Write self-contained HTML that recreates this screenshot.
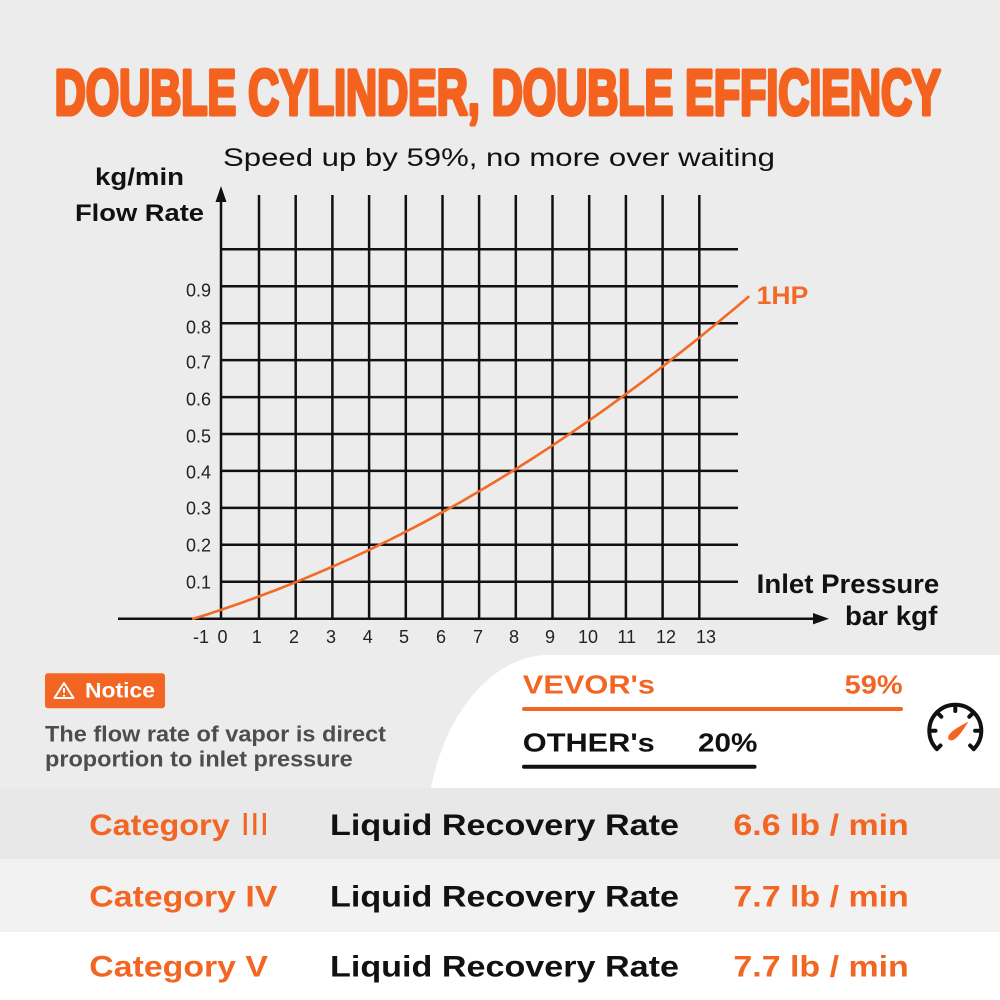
<!DOCTYPE html>
<html>
<head>
<meta charset="utf-8">
<style>
  html,body{margin:0;padding:0;background:#ececec;}
  svg{display:block;}
  text{font-family:"Liberation Sans","DejaVu Sans",sans-serif;}
</style>
</head>
<body>
<svg width="1000" height="1000" viewBox="0 0 1000 1000" xmlns="http://www.w3.org/2000/svg">
  <!-- background -->
  <rect x="0" y="0" width="1000" height="1000" fill="#ececec"/>

  <!-- Title -->
  <text x="54.7" y="114.7" font-size="64" font-weight="bold" fill="#f4621f" stroke="#f4621f" stroke-width="4" stroke-linejoin="round" textLength="886" lengthAdjust="spacingAndGlyphs">DOUBLE CYLINDER, DOUBLE EFFICIENCY</text>

  <!-- Subtitle -->
  <text x="223" y="166" font-size="25" fill="#111" textLength="552" lengthAdjust="spacingAndGlyphs">Speed up by 59%, no more over waiting</text>

  <!-- Axis titles -->
  <text x="95" y="185" font-size="24" font-weight="bold" fill="#111" textLength="89" lengthAdjust="spacingAndGlyphs">kg/min</text>
  <text x="75" y="221" font-size="24" font-weight="bold" fill="#111" textLength="129" lengthAdjust="spacingAndGlyphs">Flow Rate</text>
  <text x="756.7" y="593" font-size="27" font-weight="bold" fill="#111" textLength="182.6" lengthAdjust="spacingAndGlyphs">Inlet Pressure</text>
  <text x="845" y="625" font-size="27" font-weight="bold" fill="#111" textLength="92.3" lengthAdjust="spacingAndGlyphs">bar kgf</text>

  <!-- Grid -->
  <g stroke="#111" stroke-width="2.5" fill="none">
    <line x1="259" y1="195" x2="259" y2="618.7"/>
    <line x1="295.7" y1="195" x2="295.7" y2="618.7"/>
    <line x1="332.4" y1="195" x2="332.4" y2="618.7"/>
    <line x1="369.1" y1="195" x2="369.1" y2="618.7"/>
    <line x1="405.8" y1="195" x2="405.8" y2="618.7"/>
    <line x1="442.5" y1="195" x2="442.5" y2="618.7"/>
    <line x1="479.1" y1="195" x2="479.1" y2="618.7"/>
    <line x1="515.8" y1="195" x2="515.8" y2="618.7"/>
    <line x1="552.5" y1="195" x2="552.5" y2="618.7"/>
    <line x1="589.2" y1="195" x2="589.2" y2="618.7"/>
    <line x1="625.9" y1="195" x2="625.9" y2="618.7"/>
    <line x1="662.6" y1="195" x2="662.6" y2="618.7"/>
    <line x1="699.3" y1="195" x2="699.3" y2="618.7"/>
    <line x1="221" y1="581.8" x2="738" y2="581.8"/>
    <line x1="221" y1="544.8" x2="738" y2="544.8"/>
    <line x1="221" y1="507.9" x2="738" y2="507.9"/>
    <line x1="221" y1="470.9" x2="738" y2="470.9"/>
    <line x1="221" y1="434.0" x2="738" y2="434.0"/>
    <line x1="221" y1="397.1" x2="738" y2="397.1"/>
    <line x1="221" y1="360.1" x2="738" y2="360.1"/>
    <line x1="221" y1="323.2" x2="738" y2="323.2"/>
    <line x1="221" y1="286.2" x2="738" y2="286.2"/>
    <line x1="221" y1="249.3" x2="738" y2="249.3"/>
    <line x1="221" y1="618.7" x2="221" y2="198"/>
    <line x1="118" y1="618.7" x2="815" y2="618.7"/>
  </g>
  <polygon points="221,186 215.5,202 226.5,202" fill="#111"/>
  <polygon points="829,618.7 813,613 813,624.4" fill="#111"/>

  <!-- Y tick labels -->
  <g font-size="18" fill="#222" text-anchor="end">
    <text x="211" y="296.5">0.9</text>
    <text x="211" y="333.5">0.8</text>
    <text x="211" y="368.5">0.7</text>
    <text x="211" y="405.5">0.6</text>
    <text x="211" y="442.5">0.5</text>
    <text x="211" y="478.5">0.4</text>
    <text x="211" y="514.5">0.3</text>
    <text x="211" y="551.5">0.2</text>
    <text x="211" y="588.5">0.1</text>
  </g>
  <!-- X tick labels -->
  <g font-size="18" fill="#222" text-anchor="middle">
    <text x="201" y="643">-1</text>
    <text x="222.5" y="643">0</text>
    <text x="256.7" y="643">1</text>
    <text x="294" y="643">2</text>
    <text x="331" y="643">3</text>
    <text x="367.7" y="643">4</text>
    <text x="404" y="643">5</text>
    <text x="441" y="643">6</text>
    <text x="478" y="643">7</text>
    <text x="514" y="643">8</text>
    <text x="550" y="643">9</text>
    <text x="588" y="643">10</text>
    <text x="626.7" y="643">11</text>
    <text x="666" y="643">12</text>
    <text x="706" y="643">13</text>
  </g>

  <!-- Curve -->
  <polyline fill="none" stroke="#f26a25" stroke-width="2.6" stroke-linejoin="round" stroke-linecap="round"
    points="193.3,618.7 207.8,614.2 222.3,609.4 240.6,603.1 259.0,596.4 277.3,589.5 295.7,582.2 314.0,574.6 332.4,566.7 350.7,558.5 369.1,549.9 387.4,541.0 405.8,531.7 424.1,522.2 442.4,512.2 460.8,502.0 479.1,491.3 497.5,480.3 515.8,469.0 534.2,457.4 552.5,445.4 570.9,433.1 589.2,420.4 607.6,407.4 625.9,394.1 644.3,380.5 662.6,366.5 680.9,352.2 699.3,337.6 717.6,322.6 736.0,307.4 748.4,296.9"/>
  <text x="756.7" y="304" font-size="25" font-weight="bold" fill="#f26a25" textLength="51.6" lengthAdjust="spacingAndGlyphs">1HP</text>

  <!-- Notice -->
  <rect x="45" y="673.3" width="120" height="35" rx="3" ry="3" fill="#f26522"/>
  <path d="M64,683 L73.5,698 L54.5,698 Z" fill="none" stroke="#fff" stroke-width="2" stroke-linejoin="round"/>
  <line x1="64" y1="688" x2="64" y2="693" stroke="#fff" stroke-width="2"/>
  <circle cx="64" cy="695.6" r="1.1" fill="#fff"/>
  <text x="85" y="697.7" font-size="21" font-weight="bold" fill="#fff" textLength="70" lengthAdjust="spacingAndGlyphs">Notice</text>
  <text x="45" y="741.7" font-size="22" font-weight="bold" fill="#4d4d4d" textLength="341" lengthAdjust="spacingAndGlyphs">The flow rate of vapor is direct</text>
  <text x="45" y="766.5" font-size="22" font-weight="bold" fill="#4d4d4d" textLength="307.7" lengthAdjust="spacingAndGlyphs">proportion to inlet pressure</text>

  <!-- White curved panel -->
  <path d="M431,788 C445,715 490,658 545,655 L1000,655 L1000,788 Z" fill="#ffffff"/>

  <!-- VEVOR / OTHER -->
  <text x="522.8" y="693.3" font-size="26" font-weight="bold" fill="#f26522" textLength="132.2" lengthAdjust="spacingAndGlyphs">VEVOR's</text>
  <text x="844.7" y="693.3" font-size="26" font-weight="bold" fill="#f26522" textLength="58" lengthAdjust="spacingAndGlyphs">59%</text>
  <line x1="524" y1="709" x2="901" y2="709" stroke="#f26522" stroke-width="4" stroke-linecap="round"/>
  <text x="522.8" y="751.7" font-size="26" font-weight="bold" fill="#111" textLength="132" lengthAdjust="spacingAndGlyphs">OTHER's</text>
  <text x="698" y="751.7" font-size="26" font-weight="bold" fill="#111" textLength="59.4" lengthAdjust="spacingAndGlyphs">20%</text>
  <line x1="524" y1="766.7" x2="754.5" y2="766.7" stroke="#111" stroke-width="4" stroke-linecap="round"/>

  <!-- Gauge icon -->
  <g stroke="#111" stroke-width="4" stroke-linecap="round" fill="none">
    <path d="M936.9,749.1 A26,26 0 1 1 973.7,749.1"/>
    <line x1="955.3" y1="705" x2="955.3" y2="711"/>
    <line x1="929.5" y1="730.7" x2="935.5" y2="730.7"/>
    <line x1="981.1" y1="730.7" x2="975.1" y2="730.7"/>
    <line x1="937" y1="712.4" x2="941.3" y2="716.7"/>
    <line x1="973.6" y1="712.4" x2="969.3" y2="716.7"/>
    <line x1="936.9" y1="749.1" x2="940.5" y2="745.5"/>
    <line x1="973.7" y1="749.1" x2="970.1" y2="745.5"/>
  </g>
  <path d="M948.5,736 Q950,731 968.5,721.5 Q958.5,738 953,740 Q947,741.5 948.5,736 Z" fill="#f26522"/>

  <!-- Table rows -->
  <rect x="0" y="788" width="1000" height="71" fill="#e8e8e8"/>
  <rect x="0" y="859" width="1000" height="73" fill="#f2f2f2"/>
  <rect x="0" y="932" width="1000" height="68" fill="#ffffff"/>

  <g font-size="30" font-weight="bold">
    <text x="89.3" y="835" fill="#f26522" textLength="181.7" lengthAdjust="spacingAndGlyphs">Category <tspan font-weight="normal" font-family="'Noto Sans CJK SC', 'DejaVu Sans', sans-serif">Ⅲ</tspan></text>
    <text x="330" y="835" fill="#111" textLength="349" lengthAdjust="spacingAndGlyphs">Liquid Recovery Rate</text>
    <text x="733.4" y="835" fill="#f26522" textLength="175.4" lengthAdjust="spacingAndGlyphs">6.6 lb / min</text>

    <text x="89.3" y="906.7" fill="#f26522" textLength="188.1" lengthAdjust="spacingAndGlyphs">Category IV</text>
    <text x="330" y="906.7" fill="#111" textLength="349" lengthAdjust="spacingAndGlyphs">Liquid Recovery Rate</text>
    <text x="733.4" y="906.7" fill="#f26522" textLength="175.4" lengthAdjust="spacingAndGlyphs">7.7 lb / min</text>

    <text x="89.3" y="976.7" fill="#f26522" textLength="178.7" lengthAdjust="spacingAndGlyphs">Category V</text>
    <text x="330" y="976.7" fill="#111" textLength="349" lengthAdjust="spacingAndGlyphs">Liquid Recovery Rate</text>
    <text x="733.4" y="976.7" fill="#f26522" textLength="175.4" lengthAdjust="spacingAndGlyphs">7.7 lb / min</text>
  </g>
</svg>
</body>
</html>
